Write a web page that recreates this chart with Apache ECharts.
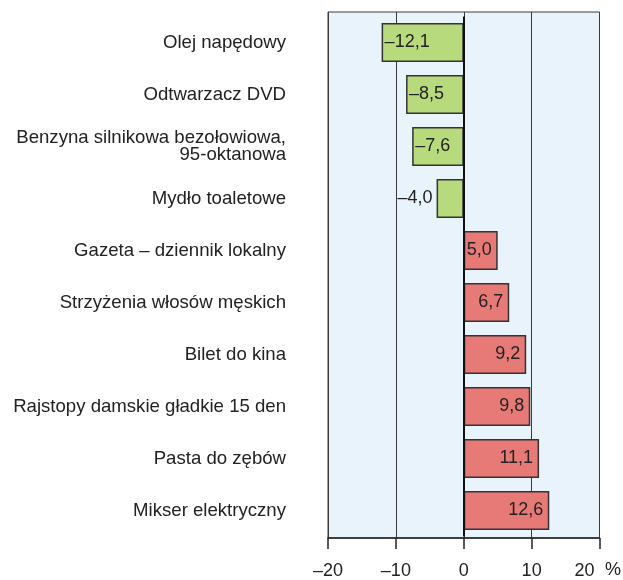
<!DOCTYPE html>
<html>
<head>
<meta charset="utf-8">
<script src="https://cdn.jsdelivr.net/npm/echarts@6/dist/echarts.min.js"></script>
<style>
  html, body { margin: 0; padding: 0; background: #fff; }
  #chart { width: 623px; height: 580px; }
</style>
</head>
<body>
<div id="chart"></div>
<script>
const categories = [
    'Olej napędowy',
    'Odtwarzacz DVD',
    'Benzyna silnikowa bezołowiowa,\n95-oktanowa',
    'Mydło toaletowe',
    'Gazeta – dziennik lokalny',
    'Strzyżenia włosów męskich',
    'Bilet do kina',
    'Rajstopy damskie gładkie 15 den',
    'Pasta do zębów',
    'Mikser elektryczny',
];
const values = [-12.1, -8.5, -7.6, -4.0, 5.0, 6.7, 9.2, 9.8, 11.1, 12.6];
const tickLabels = ['–20', '–10', '0', '10', '20'];

const FONT = 'Liberation Sans, Arial, sans-serif';
const fmt = (v) => v.toFixed(1).replace('.', ',').replace('-', '–');

const chart = echarts.init(document.getElementById('chart'));

// two-line label sits a little lower in the original
const catData = categories.map((c) =>
    c.includes('\n') ? { value: c, textStyle: { lineHeight: 16.5, padding: [6, 0, 0, 0] } } : c
);

const barData = values.map((v) => {
    let pos = v < 0 ? 'insideLeft' : 'insideRight';
    let dist = v < 0 ? 3 : 6;
    if (v < 0 && v > -5) { pos = 'left'; dist = 4; }
    return {
        value: v,
        itemStyle: { color: v < 0 ? '#b7db7c' : '#e77a77' },
        label: { position: pos, distance: dist },
    };
});

chart.setOption({
    animation: false,
    grid: [
        {
            left: 328, right: 23.5, top: 12, bottom: 39,
            show: true,
            backgroundColor: '#e8f3fb',
            borderColor: '#3a3a3a',
            borderWidth: 1,
        },
        { left: 328, right: 23.5, top: 16.5, bottom: 43.5 },
    ],
    xAxis: [
        {
            type: 'value',
            gridIndex: 0,
            min: -20,
            max: 20,
            interval: 10,
            axisLine: { show: true, onZero: false, lineStyle: { color: '#222', width: 1.5 } },
            axisTick: { show: true, length: 11, lineStyle: { color: '#222', width: 1.5 } },
            axisLabel: {
                margin: 24,
                fontSize: 18,
                color: '#222',
                fontFamily: FONT,
                formatter: (v) => (v === 20 ? '{last|20}' : tickLabels[(v + 20) / 10]),
                rich: {
                    last: { fontSize: 18, color: '#222', fontFamily: FONT, padding: [0, 30, 0, 0] },
                },
            },
            splitLine: { show: true, lineStyle: { color: '#3a3a3a', width: 1 } },
        },
        {
            type: 'value',
            gridIndex: 1,
            min: -20,
            max: 20,
            show: false,
        },
    ],
    yAxis: [
        {
            type: 'category',
            gridIndex: 0,
            data: categories,
            show: false,
        },
        {
            type: 'category',
            gridIndex: 1,
            data: catData,
            inverse: true,
            axisLine: { show: false, onZero: false },
            axisTick: { show: false },
            splitLine: { show: false },
            axisLabel: {
                margin: 42,
                fontSize: 18.6,
                lineHeight: 16.5,
                color: '#222',
                fontFamily: FONT,
                align: 'right',
            },
        },
    ],
    graphic: [
        {
            type: 'text',
            left: 605,
            top: 561,
            style: { text: '%', fontSize: 18, fill: '#222', fontFamily: FONT },
        },
    ],
    series: [
        {
            type: 'bar',
            xAxisIndex: 1,
            yAxisIndex: 1,
            data: barData,
            barWidth: '75%',
            itemStyle: { borderColor: '#333', borderWidth: 1.5 },
            label: {
                show: true,
                fontSize: 18,
                color: '#222',
                fontFamily: FONT,
                formatter: (p) => fmt(p.value),
            },
            markLine: {
                silent: true,
                symbol: 'none',
                label: { show: false },
                lineStyle: { color: '#111', width: 2, type: 'solid' },
                data: [{ xAxis: 0 }],
            },
        },
    ],
});
</script>
</body>
</html>
